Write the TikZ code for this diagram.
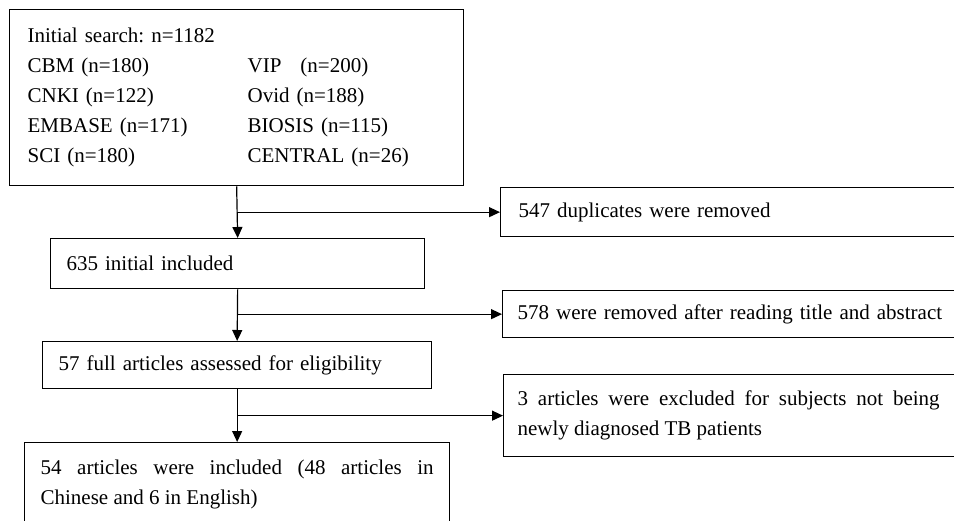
\documentclass[tikz,border=0pt]{standalone}
\usepackage{fontspec}
\setmainfont{Liberation Serif}
\usetikzlibrary{arrows.meta}
\usetikzlibrary{calc}
\frenchspacing
\newcommand{\justtext}{\rightskip=0pt\spaceskip=0pt\xspaceskip=0pt\parfillskip=0pt plus 1fil\relax}

\begin{document}
\begin{tikzpicture}[x=1pt, y=-1pt,
    box/.style={draw, line width=1.3pt, anchor=north west, align=left,
        inner ysep=0pt, font=\fontsize{21pt}{30pt}\selectfont},
    arr/.style={line width=1.2pt, -{Triangle[length=11pt, width=10pt]}}]

    \useasboundingbox (0,0) rectangle (954,520);
    \clip (0,0) rectangle (954,520);

    % Left column
    \node[box, inner xsep=18pt, text width=418pt, minimum height=176pt] (search) at (9,9)
        {Initial search: n=1182\\
         \makebox[220pt][l]{CBM (n=180)}VIP\hspace{19pt}(n=200)\\
         \makebox[220pt][l]{CNKI (n=122)}Ovid (n=188)\\
         \makebox[220pt][l]{EMBASE (n=171)}BIOSIS (n=115)\\
         \makebox[220pt][l]{SCI (n=180)}CENTRAL (n=26)};

    \node[box, inner xsep=16pt, text width=342pt, minimum height=50pt] (incl) at (50,238)
        {635 initial included};

    \node[box, inner xsep=16pt, text width=357pt, minimum height=47pt] (full) at (42,341)
        {57 full articles assessed for eligibility};

    \node[box, inner xsep=16pt, text width=393pt, minimum height=83pt] (final) at (24,442)
        {\parbox{393pt}{\justtext 54 articles were included (48 articles in\linebreak
         Chinese and 6 in English)}};

    % Right column
    \node[box, inner xsep=18pt, text width=440pt, minimum height=49pt] (dup) at (500,187)
        {547 duplicates were removed};

    \node[box, inner xsep=15pt, text width=445pt, minimum height=47pt] (title) at (502,290)
        {578 were removed after reading title and abstract};

    \node[box, inner xsep=14pt, text width=460pt, minimum height=82pt] (subj) at (503,374)
        {\parbox{422pt}{\justtext 3 articles were excluded for subjects not being\linebreak
         newly diagnosed TB patients}};

    % Arrows
    \draw[arr] (search.south) -- (incl.north);
    \draw[arr] (search.south |- dup.west) -- (dup.west);

    \draw[arr] (incl.south) -- (full.north);
    \draw[arr] (incl.south |- title.west) -- (title.west);

    \draw[arr] (full.south) -- (final.north);
    \draw[arr] (full.south |- subj.west) -- (subj.west);

\end{tikzpicture}
\end{document}
